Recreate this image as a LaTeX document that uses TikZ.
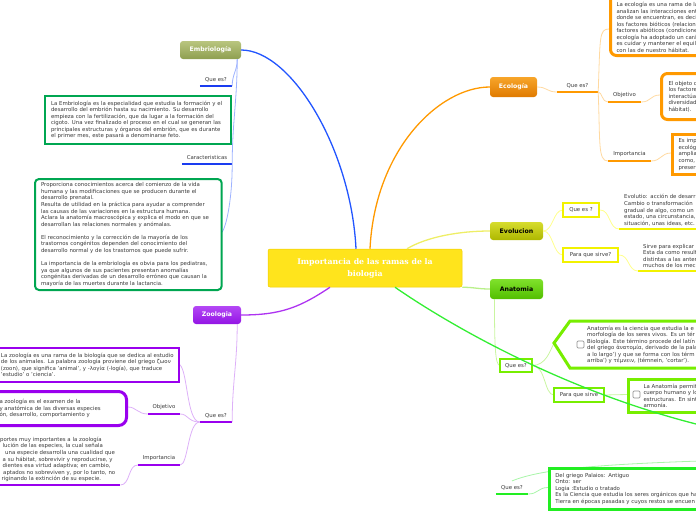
\documentclass[tikz,border=0pt]{standalone}
\usepackage{fontspec}
\setmainfont{DejaVu Sans}
\newfontfamily\slabfont{DejaVu Serif}
\usepackage{tikz}

\definecolor{txt}{HTML}{3A3A3A}
\definecolor{temaY}{HTML}{FFE41C}
\definecolor{temaD}{HTML}{F0CC00}
\definecolor{embA}{HTML}{B9C57F}
\definecolor{embB}{HTML}{8E9F50}
\definecolor{embU}{HTML}{1A3CF0}
\definecolor{embL}{HTML}{9DB2FF}
\definecolor{embM}{HTML}{2255FF}
\definecolor{embG}{HTML}{00A651}
\definecolor{zooA}{HTML}{B448F5}
\definecolor{zooB}{HTML}{9314E4}
\definecolor{zooP}{HTML}{9A00EE}
\definecolor{zooL}{HTML}{DDB0F8}
\definecolor{ecoA}{HTML}{F7A52A}
\definecolor{ecoB}{HTML}{E07A00}
\definecolor{ecoO}{HTML}{FF9900}
\definecolor{ecoL}{HTML}{FFD9A0}
\definecolor{evoA}{HTML}{D6DC2E}
\definecolor{evoB}{HTML}{AEB800}
\definecolor{evoY}{HTML}{F2F200}
\definecolor{evoL}{HTML}{FFFF8C}
\definecolor{evoM}{HTML}{EEEE66}
\definecolor{anaA}{HTML}{80E22C}
\definecolor{anaB}{HTML}{52BE00}
\definecolor{anaG}{HTML}{77EE00}
\definecolor{anaL}{HTML}{C9F5A0}
\definecolor{anaM}{HTML}{B9F08A}
\definecolor{palG}{HTML}{22EE22}
\definecolor{palL}{HTML}{A8F5A8}
\definecolor{palM}{HTML}{33EE33}

\newcommand\tiptext{\fontsize{5.4}{6.55}\selectfont}

\begin{document}
\begin{tikzpicture}[x=1pt,y=-1pt,
  tema/.style={rounded corners=2pt,fill=temaY,draw=temaD,line width=0.5pt,minimum width=194pt,minimum height=38pt,align=center,text=white,font=\slabfont\bfseries\fontsize{7.8}{12}\selectfont},
  rama/.style={rounded corners=3pt,minimum height=18pt,inner sep=0pt,text=white,font=\bfseries\fontsize{6.2}{7}\selectfont},
  lbl/.style={anchor=south,inner xsep=0pt,inner ysep=4pt,text=txt,font=\fontsize{5.4}{6}\selectfont},
  tagbox/.style={draw,fill=white,inner sep=0pt,minimum height=14pt,text=txt,font=\fontsize{5.4}{6}\selectfont},
  tbox/.style={fill=white,align=left,inner xsep=6pt,inner ysep=3pt,text=txt,font=\tiptext},
  chk/.style={draw=gray!85,fill=white,rounded corners=1.2pt,line width=0.7pt,minimum size=7pt,inner sep=0pt},
  uline/.style={line width=2pt},
  link/.style={line width=0.8pt},
  trunk/.style={line width=1.3pt}]
\useasboundingbox (0,0) rectangle (696,520);
\clip (0,0) rectangle (696,520);

\node[tema] (tema) at (365,268) {Importancia de las ramas de la\\biologia};
\node[rama,top color=embA,bottom color=embB,minimum width=61pt] (embrio) at (210.5,50) {Embriología};
\node[rama,top color=zooA,bottom color=zooB,minimum width=48pt] (zoo) at (217,315) {Zoologia};
\node[rama,top color=ecoA,bottom color=ecoB,minimum width=47pt,minimum height=20pt] (eco) at (513.5,87) {Ecología};
\node[rama,top color=evoA,bottom color=evoB,minimum width=53pt,text=black] (evo) at (516.5,231) {Evolucion};
\node[rama,top color=anaA,bottom color=anaB,minimum width=53pt,minimum height=20pt,text=black] (anat) at (516.5,289) {Anatomia};
\coordinate (paleo) at (700,425);
\coordinate (paleo2) at (700,461);

\draw[trunk,embM] (embrio.east) .. controls +(50,0) and +(-5,-100) .. ([xshift=-9pt]tema.north);
\draw[trunk,ecoO] (eco.west) .. controls +(-50,0) and +(5,-100) .. ([xshift=5pt]tema.north);
\draw[trunk,evoM] ([xshift=42pt]tema.north) .. controls +(20,-12) and +(-30,0) .. (evo.west);
\draw[trunk,anaM] (tema.south east) .. controls +(12,0) and +(-12,0) .. (anat.west);
\draw[trunk,zooP!80] ([xshift=-35pt]tema.south) .. controls +(-30,20) and +(40,0) .. (zoo.east);

\node[lbl,minimum width=32pt] (eqe) at (216,86) {Que es?};
\node[lbl,minimum width=50pt] (ecar) at (207,164) {Caracteristicas};
\draw[uline,embU] (eqe.south west) -- (eqe.south east);
\draw[uline,embU] (ecar.south west) -- (ecar.south east);
\draw[link,embL] ([xshift=-4pt]embrio.south east) .. controls +(0,12) and +(0,-12) .. (eqe.south east);
\draw[link,embL] ([xshift=-4pt]embrio.south east) .. controls +(0,40) and +(0,-40) .. (ecar.south east);
\node[tbox,draw=embG,line width=2pt,anchor=north west,text width=174pt,minimum height=48pt] (etxt1) at (44,95) {La Embriología es la especialidad que estudia la formación y el\\
desarrollo del embrión hasta su nacimiento. Su desarrollo\\
empieza con la fertilización, que da lugar a la formación del\\
cigoto. Una vez finalizado el proceso en el cual se generan las\\
principales estructuras y órganos del embrión, que es durante\\
el primer mes, este pasará a denominarse feto.};
\draw[link,embL] (ecar.south east) .. controls +(0,40) and +(4,0) .. (220.7,233) coordinate (etxt2e);
\node[tbox,draw=embG,line width=2pt,rounded corners=4pt,anchor=north west,text width=174.7pt,minimum height=111pt] (etxt2) at (34,178) {Proporciona conocimientos acerca del comienzo de la vida\\
humana y las modificaciones que se producen durante el\\
desarrollo prenatal.\\
Resulta de utilidad en la práctica para ayudar a comprender\\
las causas de las variaciones en la estructura humana.\\
Aclara la anatomía macroscópica y explica el modo en que se\\
desarrollan las relaciones normales y anómalas.\\[6.55pt]
El reconocimiento y la corrección de la mayoría de los\\
trastornos congénitos dependen del conocimiento del\\
desarrollo normal y de los trastornos que puede sufrir.\\[6.55pt]
La importancia de la embriología es obvia para los pediatras,\\
ya que algunos de sus pacientes presentan anomalías\\
congénitas derivadas de un desarrollo erróneo que causan la\\
mayoría de las muertes durante la lactancia.};

\node[lbl,minimum width=32pt] (zqe) at (216,422) {Que es?};
\node[lbl,minimum width=32pt] (zobj) at (164,414) {Objetivo};
\node[lbl,minimum width=42pt] (zimp) at (159,465) {Importancia};
\draw[uline,zooP] (zqe.south west) -- (zqe.south east);
\draw[uline,zooP] (zobj.south west) -- (zobj.south east);
\draw[uline,zooP] (zimp.south west) -- (zimp.south east);
\draw[link,zooL] ([xshift=-4pt]zoo.south east) .. controls +(0,40) and +(0,-40) .. (zqe.south east);
\draw[link,zooL] (zqe.south west) .. controls +(-14,0) and +(10,0) .. (178,364);
\draw[link,zooL] (zqe.south west) .. controls +(-12,0) and +(8,0) .. (zobj.south east);
\draw[link,zooL] (zqe.south west) .. controls +(-12,0) and +(8,0) .. (zimp.south east);
\node[tbox,draw=zooP,line width=2pt,anchor=north west,inner xsep=3pt,text width=175pt,minimum height=34pt] (zt1) at (-3,347) {La zoología es una rama de la biología que se dedica al estudio\\
de los animales. La palabra zoología proviene del griego ζωον\\
(zoon), que significa 'animal', y -λογία (-logía), que traduce\\
'estudio' o 'ciencia'.};
\draw[link,zooL] (zobj.south west) .. controls +(-10,0) and +(8,0) .. (128,407);
\node[tbox,draw=zooP,line width=3pt,rounded corners=8pt,anchor=north east,inner xsep=13pt,text width=114pt,minimum height=34pt] (zt2) at (128,390) {a zoología es el examen de la\\
y anatómica de las diversas especies\\
ón, desarrollo, comportamiento y};
\node[tbox,anchor=south west,inner xsep=3pt,text width=117pt] (zt3) at (-3,485) {portes muy importantes a la zoología\\
\hspace*{2.5pt}lución de las especies, la cual señala\\
\hspace*{5pt}una especie desarrolla una cualidad que\\
\hspace*{2.5pt}a su hábitat, sobrevivir y reproducirse, y\\
\hspace*{2.5pt}dientes esa virtud adaptiva; en cambio,\\
\hspace*{3pt}aptados no sobreviven y, por lo tanto, no\\
\hspace*{1.5pt}riginando la extinción de su especie.};
\draw[uline,zooP] (zt3.south west) -- (zt3.south east);
\draw[link,zooL] (zimp.south west) .. controls +(-10,0) and +(10,0) .. (zt3.south east);

\node[lbl,minimum width=41pt] (cqe) at (577.5,92) {Que es?};
\node[lbl,minimum width=33pt] (cobj) at (624.5,102) {Objetivo};
\node[lbl,minimum width=43pt] (cimp) at (629.5,161) {Importancia};
\draw[uline,ecoO] (cqe.south west) -- (cqe.south east);
\draw[uline,ecoO] (cobj.south west) -- (cobj.south east);
\draw[uline,ecoO] (cimp.south west) -- (cimp.south east);
\draw[link,ecoL] (eco.east) .. controls +(10,0) and +(-10,0) .. (cqe.south west);
\draw[link,ecoL] (cqe.south east) .. controls +(2,-55) and +(-10,0) .. (609,29);
\draw[link,ecoL] (cqe.south east) .. controls +(4,0) and +(-6,0) .. (cobj.south west);
\draw[link,ecoL] (cqe.south east) .. controls +(2,50) and +(-10,0) .. (cimp.south west);
\draw[link,ecoL] (cobj.south east) .. controls +(10,0) and +(-10,0) .. (660,95);
\draw[link,ecoL] (cimp.south east) .. controls +(10,0) and +(-10,0) .. (671,153);
\node[tbox,draw=ecoO,line width=3pt,rounded corners=6pt,anchor=south west,text width=130pt] (ct1) at (609,57) {\rule{0pt}{22pt}La ecología es una rama de la\\
analizan las interacciones ent\\
donde se encuentran, es deci\\
los factores bióticos (relacion\\
factores abióticos (condicione\\
ecología ha adoptado un cará\\
es cuidar y mantener el equili\\
con las de nuestro hábitat.};
\node[tbox,draw=ecoO,line width=3pt,rounded corners=6pt,anchor=north west,inner xsep=7pt,text width=80pt,minimum height=46pt] (co) at (660,72) {El objeto d\\
los factore\\
interactúan\\
diversidad\\
hábitat).};
\node[tbox,draw=ecoO,line width=3pt,anchor=north west,text width=60pt,minimum height=40pt] (ci) at (671,133) {Es imp\\
ecológi\\
amplia\\
como,\\
preserv};

\draw[link,evoL] (evo.east) .. controls +(10,0) and +(-10,0) .. (563,210);
\draw[link,evoL] (evo.east) .. controls +(10,0) and +(-10,0) .. (563,255);
\node[tagbox,draw=evoY,line width=2.5pt,minimum width=36pt] (vqe) at (581,210) {Que es ?};
\node[tagbox,draw=evoY,line width=2.5pt,minimum width=55pt] (vps) at (590.5,255) {Para que sirve?};
\node[tbox,anchor=south west,inner xsep=5pt,text width=100pt] (vt1) at (619,229) {Evolutio: acción de desarr\\
Cambio o transformación\\
gradual de algo, como un\\
estado, una circunstancia,\\
situación, unas ideas, etc.};
\node[tbox,anchor=south west,inner xsep=5pt,text width=100pt] (vt2) at (638,271) {Sirve para explicar\\
Esta da como resulta\\
distintas a las anter\\
muchos de los mec};
\draw[uline,evoY,line width=2.5pt] (vt1.south west) -- (vt1.south east);
\draw[uline,evoY,line width=2.5pt] (vt2.south west) -- (vt2.south east);
\draw[link,evoL] (vqe.east) .. controls +(10,0) and +(-10,0) .. (vt1.south west);
\draw[link,evoL] (vps.east) .. controls +(10,0) and +(-10,0) .. (vt2.south west);

\coordinate (at1tip) at (554,343);
\draw[link,anaL] ([xshift=-22pt]anat.south) .. controls +(0,45) and +(-5,0) .. (500,365.5);
\draw[link,anaL] (532,365.5) .. controls +(14,0) and +(-4,8) .. (at1tip);
\draw[link,anaL] (532,365.5) .. controls +(14,0) and +(-10,0) .. (554,395);
\draw[link,anaL] (604,395) -- (627,394.5);
\node[tagbox,draw=anaG,line width=2pt,minimum width=32pt,minimum height=13pt] (aqe) at (516,365.5) {Que es?};
\node[tagbox,draw=anaG,line width=2.5pt,minimum width=50pt] (aps) at (579,395) {Para que sirve};
\draw[anaG,fill=white,line width=3pt] (720,321) -- (570,321) -- (at1tip) -- (570,368) -- (720,368);
\node[tbox,anchor=north west,inner sep=0pt,text width=130pt] (at1) at (587,325.5) {Anatomía es la ciencia que estudia la e\\
morfología de los seres vivos. Es un tér\\
Biología. Este término procede del latín\\
del griego ἀνατομία, derivado de la pala\\
a lo largo') y que se forma con los térm\\
arriba') y τέμνειν, (témnein, 'cortar').};
\node[chk] (ck1) at (580.5,344.5) {};
\node[tbox,draw=anaG,line width=3pt,anchor=north west,inner xsep=15pt,text width=80pt,minimum height=33pt] (at2) at (627,378) {La Anatomía permit\\
cuerpo humano y lo\\
estructuras. En sint\\
armonía.};
\node[chk] (ck2) at (636.5,394.5) {};

\node[lbl,minimum width=32pt] (pqe) at (512,494) {Que es?};
\draw[uline,palG] (pqe.south west) -- (pqe.south east);
\draw[link,palL] (paleo2) .. controls +(-120,4) and +(25,-10) .. (pqe.north);
\draw[link,palL] (pqe.south east) .. controls +(10,0) and +(-10,0) .. (548,487.5);
\node[tbox,draw=palG,line width=2.5pt,anchor=north west,text width=150pt,minimum height=41pt] (pt1) at (548,467) {Del griego Palaios: Antiguo\\
Onto: ser\\
Logia :Estudio o tratado\\
Es la Ciencia que estudia los seres orgánicos que ha\\
Tierra en épocas pasadas y cuyos restos se encuen};

\draw[trunk,palM] ([xshift=30pt]tema.south) .. controls +(55,38) and +(-136,-34) .. (paleo);
\end{tikzpicture}
\end{document}
